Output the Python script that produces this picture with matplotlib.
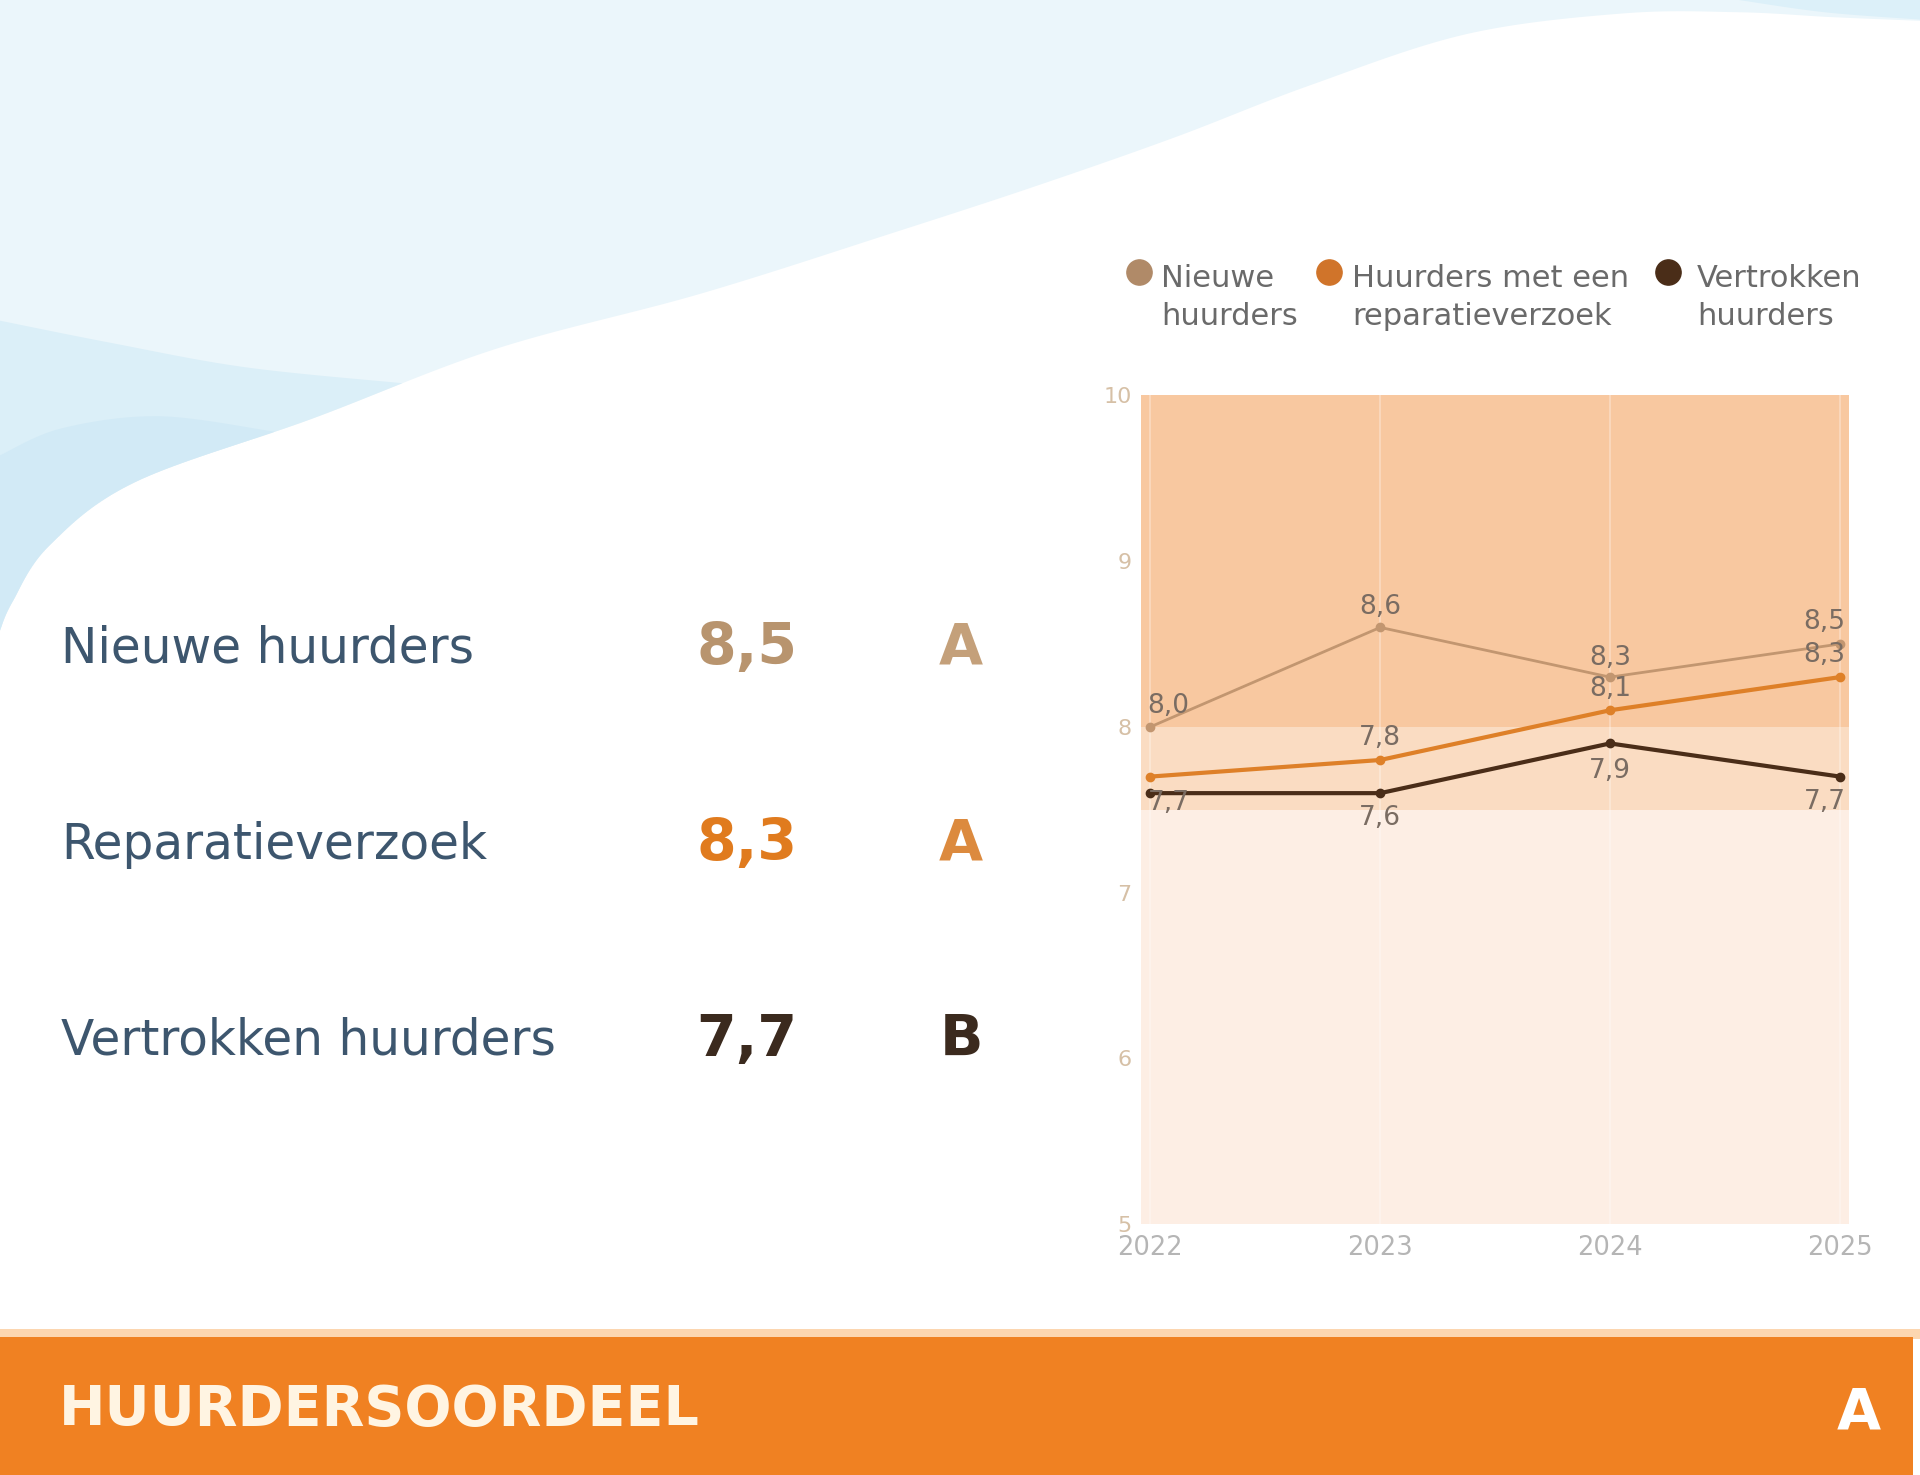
import matplotlib
matplotlib.use("Agg")
import matplotlib.pyplot as plt
from matplotlib.patches import Polygon, Rectangle
import numpy as np

# --- data ---
years = [2022, 2023, 2024, 2025]
series_names = ["Nieuwe huurders", "Huurders met een reparatieverzoek", "Vertrokken huurders"]
legend_labels = ["Nieuwe\nhuurders", "Huurders met een\nreparatieverzoek", "Vertrokken\nhuurders"]
nieuwe = [8.0, 8.6, 8.3, 8.5]
reparatie = [7.7, 7.8, 8.1, 8.3]
vertrokken = [7.6, 7.6, 7.9, 7.7]

categories = ["Nieuwe huurders", "Reparatieverzoek", "Vertrokken huurders"]
scores = [8.5, 8.3, 7.7]
grades = ["A", "A", "B"]
overall_title = "HUURDERSOORDEEL"
overall_grade = "A"

bands = [(8.0, 10.0), (7.5, 8.0), (5.0, 7.5)]
y_ticks = [5, 6, 7, 8, 9, 10]


def fmt(v):
    return f"{v:.1f}".replace(".", ",")


def smooth(pts, n=20):
    # catmull-rom through the given points
    p = np.array(pts, dtype=float)
    p = np.vstack([p[0], p, p[-1]])
    out = []
    for i in range(1, len(p) - 2):
        p0, p1, p2, p3 = p[i - 1], p[i], p[i + 1], p[i + 2]
        for t in np.linspace(0, 1, n, endpoint=False):
            t2, t3 = t * t, t * t * t
            out.append(0.5 * ((2 * p1) + (-p0 + p2) * t
                              + (2 * p0 - 5 * p1 + 4 * p2 - p3) * t2
                              + (-p0 + 3 * p1 - 3 * p2 + p3) * t3))
    out.append(p[-2])
    return np.array(out)


def main():
    W, H = 1568, 1205  # layout grid used for placing things
    fig = plt.figure(figsize=(19.2, 14.75), dpi=100)
    fig.patch.set_facecolor("white")

    # background wave
    bg = fig.add_axes([0, 0, 1, 1], zorder=-5)
    bg.set_xlim(0, W)
    bg.set_ylim(H, 0)
    bg.axis("off")
    edge = smooth([(0, 515), (10, 492), (40, 446), (110, 394), (255, 342),
                   (405, 285), (572, 240), (730, 190), (846, 152), (960, 112),
                   (1069, 70), (1197, 28), (1325, 11), (1420, 10), (1496, 14),
                   (1568, 17)])
    top = np.vstack([edge, [(W, 0), (0, 0)]])
    bg.add_patch(Polygon(top, closed=True, fc="#ebf6fb", ec="none"))

    # darker streak along the left part of the wave
    lower = edge[edge[:, 0] <= 330]
    end_y = lower[-1, 1]
    upper = smooth([(lower[-1, 0], end_y), (200, 300), (90, 280), (0, 262)], n=10)
    bg.add_patch(Polygon(np.vstack([lower, upper]), closed=True,
                         fc="#dbeff8", ec="none"))
    inner = edge[edge[:, 0] <= 230]
    upper2 = smooth([(inner[-1, 0], inner[-1, 1]), (130, 340), (50, 350), (0, 372)], n=10)
    bg.add_patch(Polygon(np.vstack([inner, upper2]), closed=True,
                         fc="#d0e9f6", ec="none", alpha=0.8))
    # top right corner
    corner = smooth([(1420, 0), (1490, 10), (1568, 16)], n=10)
    bg.add_patch(Polygon(np.vstack([corner, [(W, 0)]]), closed=True,
                         fc="#dcf0f9", ec="none"))

    # bottom banner
    bg.add_patch(Rectangle((0, 1086), W, 8, fc="#fcd6b0", ec="none"))
    bg.add_patch(Rectangle((0, 1092), 1562, H - 1092, fc="#f08122", ec="none"))
    fig.text(48 / W, 1 - 1152 / H, overall_title, fontsize=40, fontweight="bold",
             color="#fff4e2", va="center", ha="left")
    fig.text(1518 / W, 1 - 1155 / H, overall_grade, fontsize=41, fontweight="bold",
             color="white", va="center", ha="center")

    # left score table
    score_colors = ["#b8946e", "#e07b1e", "#3b2a1e"]
    grade_colors = ["#c4a07a", "#dc8a3e", "#3b2a1e"]
    row_y = [530, 690, 850]
    for name, s, g, y, sc, gc in zip(categories, scores, grades, row_y, score_colors, grade_colors):
        fig.text(50 / W, 1 - y / H, name, fontsize=35, color="#3d566e", va="center")
        fig.text(610 / W, 1 - y / H, fmt(s), fontsize=41, fontweight="bold", color=sc,
                 va="center", ha="center")
        fig.text(785 / W, 1 - y / H, g, fontsize=41, fontweight="bold", color=gc,
                 va="center", ha="center")

    # chart
    ax = fig.add_axes([932 / W, 1 - 1000 / H, (1510 - 932) / W, (1000 - 323) / H])
    band_colors = ["#f8c8a0", "#fadcc2", "#fdeee4"]
    for (lo, hi), c in zip(bands, band_colors):
        ax.axhspan(lo, hi, color=c, lw=0, zorder=0)
    for yr in years:
        ax.axvline(yr, color="white", lw=1.2, alpha=0.35, zorder=1)

    line_colors = ["#c29670", "#de8028", "#4a2d18"]
    line_widths = [2.0, 3.0, 3.0]
    values = [nieuwe, reparatie, vertrokken]
    # label offsets in points (None = label not shown)
    offsets = [
        [(13, 15), (0, 15), (0, 14), (-11, 16)],
        [(13, -19), (0, 16), (0, 15), (-11, 16)],
        [None, (0, -18), (0, -20), (-11, -18)],
    ]
    for vals, c, lw, offs, name in zip(values, line_colors, line_widths, offsets, series_names):
        ax.plot(years, vals, color=c, lw=lw, marker="o", ms=6, zorder=3, label=name)
        for x, v, off in zip(years, vals, offs):
            if off is None:
                continue
            ax.annotate(fmt(v), (x, v), xytext=off, textcoords="offset points",
                        ha="center", va="center", fontsize=19, color="#7a6c62", zorder=4)

    ax.set_xlim(2021.96, 2025.04)
    ax.set_ylim(5, 10)
    ax.set_xticks(years)
    ax.set_xticklabels([str(y) for y in years], fontsize=18.5, color="#b5b5b5")
    ax.set_yticks(y_ticks)
    ax.set_yticklabels([str(t) for t in y_ticks], fontsize=16, color="#d6c0a6")
    ax.tick_params(length=0)
    ax.tick_params(axis="x", pad=8)
    ax.tick_params(axis="y", pad=7)
    for sp in ax.spines.values():
        sp.set_visible(False)

    # legend drawn by hand, marker aligned with first text line
    legend_colors = ["#b08a68", "#d0742a", "#4a2d18"]
    marker_x = [930, 1085, 1362]
    text_x = [948, 1104, 1386]
    for lab, c, mx, tx in zip(legend_labels, legend_colors, marker_x, text_x):
        bg.scatter([mx], [222], s=330, color=c, zorder=3)
        fig.text(tx / W, 1 - 216 / H, lab, fontsize=22, color="#6a6a6a",
                 va="top", ha="left", linespacing=1.39)

    fig.savefig("out.png", dpi=100)


if __name__ == "__main__":
    main()
